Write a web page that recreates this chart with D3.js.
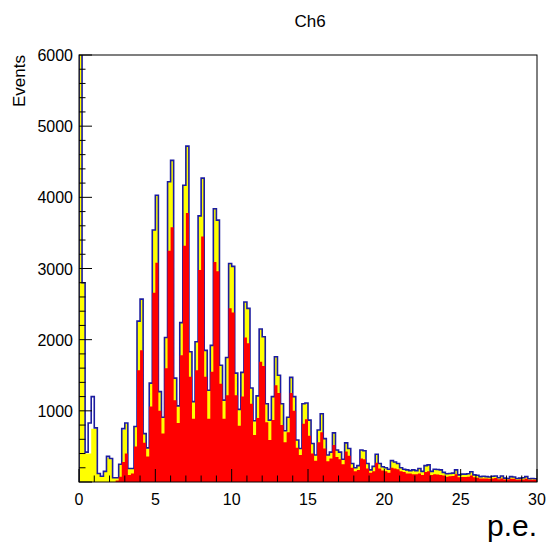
<!DOCTYPE html>
<html>
<head>
<meta charset="utf-8">
<script src="https://cdn.jsdelivr.net/npm/d3@7"></script>
<style>
  body { margin: 0; background: #fff; }
  text { font-family: "Liberation Sans", Arial, sans-serif; }
</style>
</head>
<body>
<svg id="chart" width="547" height="546"></svg>
<script>
// histogram Ch6, bins of 0.2 p.e. from 0 to 30
const binWidth = 0.2;

// all events (yellow fill)
const allEvents = [
  6500, 2800, 400, 400, 750, 750, 120, 80, 150, 340,
  320, 60, 60, 240, 730, 820, 190, 190, 780, 2260,
  2570, 680, 480, 1390, 3540, 4030, 1270, 910, 2030, 4220,
  4520, 1460, 1070, 2240, 4170, 4720, 1830, 1130, 1970, 3740,
  4270, 1850, 1290, 1920, 3840, 3680, 1640, 1150, 1750, 3070,
  3030, 1530, 1020, 1540, 2530, 2440, 1320, 860, 1210, 2150,
  2040, 1100, 870, 1200, 1760, 1500, 1100, 720, 910, 1470,
  1200, 590, 470, 1100, 1110, 870, 540, 380, 730, 960,
  610, 380, 420, 690, 450, 420, 320, 550, 470, 260,
  200, 230, 450, 440, 260, 170, 220, 390, 260, 215,
  200, 180, 300, 280, 260, 200, 180, 170, 160, 170,
  160, 190, 150, 230, 240, 150, 180, 175, 170, 135,
  115, 120, 125, 170, 100, 110, 110, 115, 145, 100,
  95, 75, 80, 75, 70, 80, 85, 60, 85, 55,
  50, 75, 70, 50, 55, 60, 75, 45, 50, 45
];

// selected events (red fill)
const selEvents = [
  0, 0, 0, 0, 0, 0, 0, 0, 0, 0,
  0, 0, 20, 75, 280, 400, 100, 120, 500, 1570,
  1850, 550, 360, 1060, 2660, 3080, 1000, 680, 1600, 3250,
  3580, 1150, 830, 1780, 3320, 3780, 1480, 890, 1570, 2980,
  3450, 1480, 890, 1550, 3090, 2960, 1380, 890, 1220, 2440,
  2380, 1220, 790, 1200, 2030, 1950, 1100, 660, 900, 1690,
  1630, 840, 590, 870, 1360, 1250, 800, 560, 700, 1250,
  1000, 480, 380, 820, 880, 650, 400, 300, 560, 700,
  470, 290, 330, 520, 350, 320, 250, 430, 370, 200,
  150, 170, 330, 320, 190, 130, 150, 270, 190, 160,
  150, 130, 200, 190, 180, 150, 140, 120, 120, 110,
  110, 120, 100, 140, 150, 100, 110, 105, 100, 90,
  75, 80, 85, 110, 65, 70, 70, 75, 90, 65,
  60, 50, 50, 50, 45, 50, 55, 40, 50, 35,
  35, 45, 45, 30, 35, 35, 45, 30, 30, 30
];

// blue outline differs from the yellow fill only in the first bins
const outlineHead = [6500, 2800, 420, 830, 1200, 760, 120, 80, 150, 360, 330, 60, 60, 250, 750, 830];
const outlineEvents = allEvents.map((v, i) => (i < outlineHead.length ? outlineHead[i] : v));

const xTicks = [0, 5, 10, 15, 20, 25, 30];
const yTicks = [1000, 2000, 3000, 4000, 5000, 6000];

const margin = { top: 55, right: 10, bottom: 64, left: 79 };
const width = 547 - margin.left - margin.right;
const height = 546 - margin.top - margin.bottom;

const svg = d3.select("#chart");
const g = svg.append("g").attr("transform", "translate(" + margin.left + "," + margin.top + ")");

const x = d3.scaleLinear().domain([0, 30]).range([0, width]);
const y = d3.scaleLinear().domain([0, 6000]).range([height, 0]);

g.append("clipPath").attr("id", "frame")
  .append("rect").attr("width", width).attr("height", height);

// step points for a histogram
function steps(values) {
  const pts = [];
  values.forEach((v, i) => {
    pts.push([i * binWidth, v]);
    pts.push([(i + 1) * binWidth, v]);
  });
  return pts;
}

const area = d3.area()
  .x((d) => x(d[0]))
  .y0(y(0))
  .y1((d) => y(d[1]));

const outline = d3.line()
  .x((d) => x(d[0]))
  .y((d) => y(d[1]));

const plot = g.append("g").attr("clip-path", "url(#frame)");

plot.append("path")
  .datum(steps(allEvents))
  .attr("d", area)
  .attr("fill", "#ffff00");

const linePts = [[0, 0]].concat(steps(outlineEvents), [[outlineEvents.length * binWidth, 0]]);
plot.append("path")
  .datum(linePts)
  .attr("d", outline)
  .attr("fill", "none")
  .attr("stroke", "#1c1ca0")
  .attr("stroke-width", 1.6);

// axes ticks (drawn before the red histogram, as in the original)
const ticks = g.append("g").attr("stroke", "#000").attr("stroke-width", 1);
d3.range(0, 6001, 200).forEach((v) => {
  const major = v % 1000 === 0;
  ticks.append("line")
    .attr("x1", 0).attr("x2", major ? 13 : 6.5)
    .attr("y1", y(v)).attr("y2", y(v));
});
d3.range(0, 31, 1).forEach((v) => {
  const major = v % 5 === 0;
  ticks.append("line")
    .attr("x1", x(v)).attr("x2", x(v))
    .attr("y1", height).attr("y2", height - (major ? 13 : 6.5));
});

plot.append("path")
  .datum(steps(selEvents))
  .attr("d", area)
  .attr("fill", "#ff0000");

// frame
g.append("rect")
  .attr("width", width).attr("height", height)
  .attr("fill", "none").attr("stroke", "#000").attr("stroke-width", 1);

// tick labels
g.append("g").selectAll("text")
  .data(xTicks)
  .enter()
  .append("text")
  .attr("x", (d) => x(d))
  .attr("y", height + 23)
  .attr("text-anchor", "middle")
  .attr("font-size", 16)
  .text((d) => d);

g.append("g").selectAll("text")
  .data(yTicks)
  .enter()
  .append("text")
  .attr("x", -6)
  .attr("y", (d) => y(d) + 6)
  .attr("text-anchor", "end")
  .attr("font-size", 16)
  .text((d) => d);

// titles
svg.append("text")
  .attr("x", 310).attr("y", 27)
  .attr("text-anchor", "middle")
  .attr("font-size", 17)
  .text("Ch6");

svg.append("text")
  .attr("transform", "translate(25,55) rotate(-90)")
  .attr("text-anchor", "end")
  .attr("font-size", 17)
  .text("Events");

svg.append("text")
  .attr("x", 537).attr("y", 536)
  .attr("text-anchor", "end")
  .attr("font-size", 30)
  .text("p.e.");
</script>
</body>
</html>
